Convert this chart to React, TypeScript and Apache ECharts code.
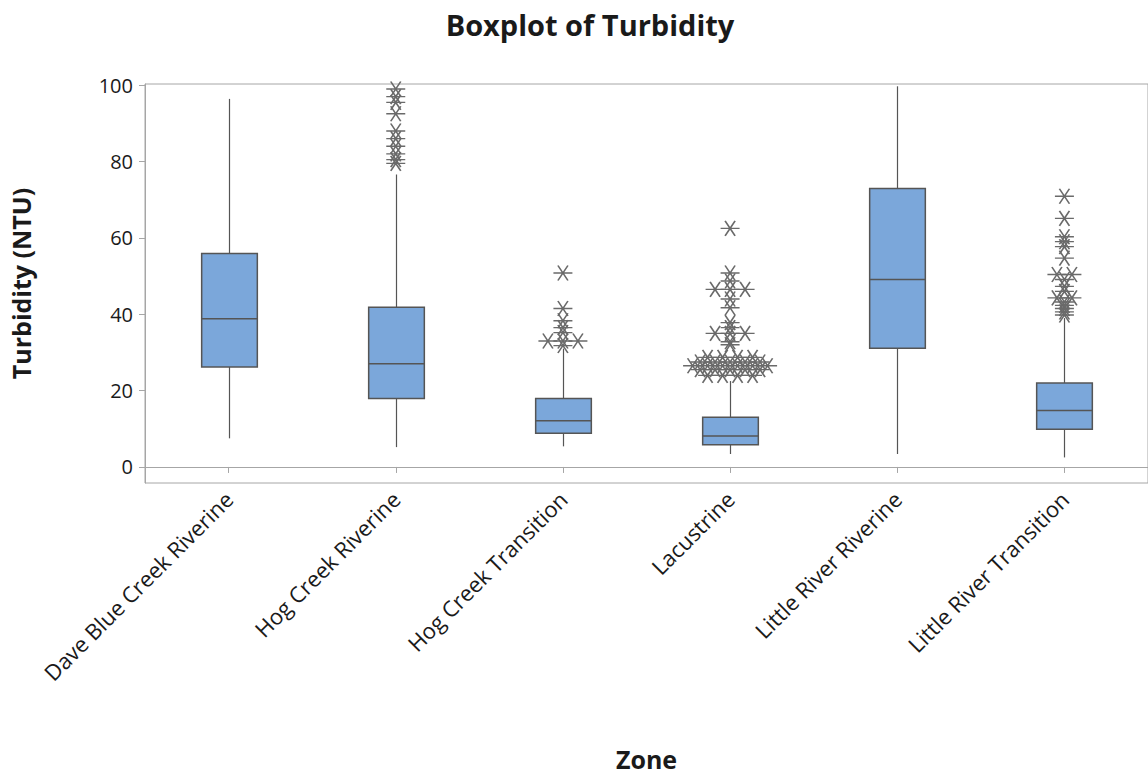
import { useEffect, useRef } from "react";
import * as echarts from "echarts";

// Zones along the category axis
const zones = [
  "Dave Blue Creek Riverine",
  "Hog Creek Riverine",
  "Hog Creek Transition",
  "Lacustrine",
  "Little River Riverine",
  "Little River Transition",
];

// Box statistics per zone (NTU)
const whiskerLow = [7.5, 5.2, 5.4, 3.4, 3.4, 2.5];
const quartile1 = [26.2, 17.9, 8.8, 5.8, 31.1, 9.9];
const medians = [38.8, 27.0, 12.1, 8.1, 49.1, 14.8];
const quartile3 = [55.9, 41.8, 17.9, 13.0, 72.9, 22.0];
const whiskerHigh = [96.4, 76.6, 31.0, 22.5, 99.7, 39.0];

// Outlying observations per zone (repeated values are tied points)
const outliersDaveBlue: number[] = [];
const outliersHogRiverine = [79.5, 80.5, 82, 84, 86, 88, 92.5, 95.5, 97, 99];
const outliersHogTransition = [31.8, 33, 33, 33, 35.2, 36.5, 38.3, 41.5, 50.8];
const outliersLacustrine = [
  24, 24, 24, 24,
  25.5, 25.5, 25.5, 25.5, 25.5,
  26.5, 26.5, 26.5, 26.5, 26.5, 26.5,
  27.5, 27.5, 27.5, 27.5, 27.5,
  28.7, 28.7, 28.7, 28.7,
  32, 32.8, 35, 35, 35, 36.5, 37.8,
  41.7, 44, 46.5, 46.5, 46.5, 48.7, 50.8, 62.5,
];
const outliersLittleRiverine: number[] = [];
const outliersLittleTransition = [
  39.8, 40.6, 41.5, 42.3, 43.2, 44.3, 44.3, 46, 47.3, 49.1, 50.4, 50.4,
  54.7, 57.7, 59, 60.3, 65.1, 70.9,
];

const outlierGroups = [
  outliersDaveBlue,
  outliersHogRiverine,
  outliersHogTransition,
  outliersLacustrine,
  outliersLittleRiverine,
  outliersLittleTransition,
];

const yTicks = [0, 20, 40, 60, 80, 100];

const FONT = "'Open Sans', 'Noto Sans', sans-serif";
const BOX_FILL = "#7BA7DA";
const BOX_LINE = "#555555";
const FRAME = "#A6A6A6";
const STAR = "#6A6A6A";
const TIE_SPACING = 15;

// Six-armed asterisk: horizontal bar plus two steep diagonals
const STAR_PATH = "path://M0,7.5L19,7.5M4.5,0L14.5,15M14.5,0L4.5,15";

function buildOutlierPoints() {
  const pts: any[] = [];
  outlierGroups.forEach((vals, ci) => {
    const counts = new Map<number, number>();
    vals.forEach((v) => counts.set(v, (counts.get(v) || 0) + 1));
    counts.forEach((n, v) => {
      for (let i = 0; i < n; i++) {
        pts.push({
          value: [ci, v],
          symbolOffset: [(i - (n - 1) / 2) * TIE_SPACING, 0],
        });
      }
    });
  });
  return pts;
}

export default function App() {
  const ref = useRef<HTMLDivElement>(null);

  useEffect(() => {
    if (!ref.current) return;
    const chart = echarts.init(ref.current, undefined, { renderer: "svg" });

    const boxData = zones.map((_, i) => [
      i,
      whiskerLow[i],
      quartile1[i],
      medians[i],
      quartile3[i],
      whiskerHigh[i],
    ]);

    chart.setOption({
      animation: false,
      backgroundColor: "#ffffff",
      textStyle: { fontFamily: FONT },
      graphic: [
        {
          type: "text",
          x: 590,
          y: 24,
          style: {
            text: "Boxplot of Turbidity",
            font: `bold 29px ${FONT}`,
            fill: "#1a1a1a",
            textAlign: "center",
            textVerticalAlign: "middle",
          },
        },
      ],
      grid: {
        left: 145,
        top: 84,
        width: 1010,
        height: 401,
        show: true,
        borderColor: FRAME,
        borderWidth: 1,
        containLabel: false,
      },
      xAxis: {
        type: "category",
        data: zones,
        name: "Zone",
        nameLocation: "middle",
        nameGap: 263,
        nameTextStyle: {
          fontFamily: FONT,
          fontWeight: "bold",
          fontSize: 25,
          color: "#1a1a1a",
        },
        axisLine: { show: true, lineStyle: { color: FRAME, width: 1 } },
        axisTick: {
          show: true,
          alignWithLabel: true,
          length: 6,
          lineStyle: { color: FRAME },
        },
        axisLabel: {
          rotate: 45,
          margin: 12,
          fontFamily: FONT,
          fontSize: 22,
          color: "#1a1a1a",
        },
        splitLine: { show: false },
      },
      yAxis: {
        type: "value",
        min: -4.2,
        max: 100.3,
        name: "Turbidity (NTU)",
        nameLocation: "middle",
        nameGap: 112,
        nameTextStyle: {
          fontFamily: FONT,
          fontWeight: "bold",
          fontSize: 25,
          color: "#1a1a1a",
        },
        axisLine: { show: true, lineStyle: { color: FRAME, width: 1 } },
        axisTick: {
          show: true,
          length: 6,
          customValues: yTicks,
          lineStyle: { color: FRAME },
        },
        axisLabel: {
          customValues: yTicks,
          margin: 12,
          fontFamily: FONT,
          fontSize: 20,
          color: "#1a1a1a",
        },
        splitLine: { show: false },
      },
      series: [
        {
          type: "custom",
          data: boxData,
          encode: { x: 0, y: [1, 2, 3, 4, 5] },
          z: 2,
          renderItem: (_params: any, api: any) => {
            const ci = api.value(0);
            const low = api.coord([ci, api.value(1)]);
            const q1 = api.coord([ci, api.value(2)]);
            const med = api.coord([ci, api.value(3)]);
            const q3 = api.coord([ci, api.value(4)]);
            const high = api.coord([ci, api.value(5)]);
            const bw = api.size([1, 0])[0] * 0.333;
            const x = Math.round(low[0]) + 0.5;
            const lineStyle = { stroke: BOX_LINE, lineWidth: 1.2 };
            return {
              type: "group",
              children: [
                {
                  type: "line",
                  shape: { x1: x, y1: high[1], x2: x, y2: q3[1] },
                  style: lineStyle,
                },
                {
                  type: "line",
                  shape: { x1: x, y1: q1[1], x2: x, y2: low[1] },
                  style: lineStyle,
                },
                {
                  type: "rect",
                  shape: {
                    x: x - bw / 2,
                    y: q3[1],
                    width: bw,
                    height: q1[1] - q3[1],
                  },
                  style: { fill: BOX_FILL, stroke: BOX_LINE, lineWidth: 1.5 },
                },
                {
                  type: "line",
                  shape: {
                    x1: x - bw / 2,
                    y1: med[1],
                    x2: x + bw / 2,
                    y2: med[1],
                  },
                  style: { stroke: BOX_LINE, lineWidth: 1.5 },
                },
              ],
            };
          },
        },
        {
          type: "scatter",
          data: buildOutlierPoints(),
          symbol: STAR_PATH,
          symbolSize: [19, 15],
          z: 3,
          itemStyle: {
            color: "none",
            borderColor: STAR,
            borderWidth: 1.5,
            opacity: 1,
          },
        },
      ],
    });

    return () => chart.dispose();
  }, []);

  return (
    <div
      ref={ref}
      style={{ position: "absolute", left: 0, top: 0, width: 1148, height: 776 }}
    />
  );
}
